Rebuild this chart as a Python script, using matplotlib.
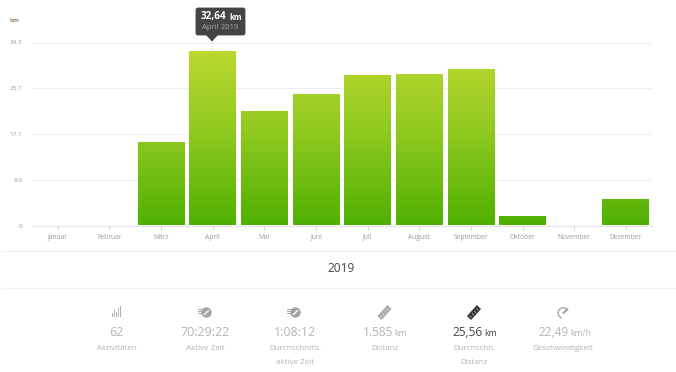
import numpy as np
import matplotlib
matplotlib.use("Agg")
import matplotlib.pyplot as plt
from matplotlib.patches import FancyBboxPatch, Polygon, Rectangle, Circle, Wedge
from matplotlib.colors import LinearSegmentedColormap

months = ["Januar", "Februar", "März", "April", "Mai", "Juni", "Juli", "August",
          "September", "Oktober", "November", "Dezember"]
km = [0, 0, 15.7, 32.64, 21.5, 24.7, 28.2, 28.4, 29.3, 1.7, 0, 5.0]
yticks = [0, 8.6, 17.1, 25.7, 34.3]
ytick_labels = ["0", "8.6", "17.1", "25.7", "34.3"]
year = "2019"
tooltip_value = "32,64"
tooltip_label = "April 2019"
stat_values = ["62", "70:29:22", "1:08:12", "1.585", "25,56", "22,49"]
stat_units = ["", "", "", "km", "km", "km/h"]
stat_labels = [["Aktivitäten"], ["Aktive Zeit"], ["Durchschnittl.", "aktive Zeit"],
               ["Distanz"], ["Durchschn.", "Distanz"], ["Geschwindigkeit"]]

plt.rcParams['font.family'] = ['Open Sans', 'DejaVu Sans']
W, H = 676, 372
fig = plt.figure(figsize=(W / 100, H / 100), dpi=100, facecolor="white")
ax = fig.add_axes([32 / W, (H - 225.5) / H, 619.6 / W, 183 / H])
x = np.arange(12)
ax.set_xlim(-0.5, 11.5)
ax.set_ylim(0, 34.3)

cmap = LinearSegmentedColormap.from_list("g", ["#bbd82f", "#8cc81e", "#4fb000"])
grad = np.linspace(0, 1, 256).reshape(-1, 1)
bars = ax.bar(x, km, width=0.905, color="none", edgecolor="none", zorder=3)
for b, v in zip(bars, km):
    if v <= 0:
        continue
    x0 = b.get_x()
    x1 = x0 + b.get_width()
    im = ax.imshow(grad, cmap=cmap, aspect="auto", extent=[x0, x1, 0, max(km)],
                   origin="upper", zorder=3, interpolation="bilinear")
    im.set_clip_path(b)
ax.set_xlim(-0.5, 11.5)
ax.set_ylim(0, 34.3)

ax.set_yticks(yticks)
ax.set_yticklabels(ytick_labels, fontsize=4.6, color="#9a9a9a")
ax.set_xticks(x)
ax.set_xticklabels(months, fontsize=4.8, color="#9a9a9a")
ax.tick_params(axis="y", length=0, pad=7)
ax.tick_params(axis="x", length=3.2, width=0.6, color="#cccccc", pad=2.6)
ax.grid(axis="y", color="#eeeeee", linewidth=0.8, zorder=0)
ax.set_axisbelow(True)
for s in ["top", "right", "left"]:
    ax.spines[s].set_visible(False)
ax.spines["bottom"].set_color("#e6e6e6")
ax.spines["bottom"].set_linewidth(0.8)
ax.patch.set_alpha(0)

ov = fig.add_axes([0, 0, 1, 1], zorder=5)
ov.set_xlim(0, W)
ov.set_ylim(H, 0)
ov.axis("off")
ov.patch.set_alpha(0)

ov.text(9, 20.5, "km", fontsize=4.4, color="#a08a70", ha="left", va="center", fontweight="bold")

# tooltip
ov.plot([212, 212], [41, 52], color="#c8c8c8", lw=0.6, ls=(0, (2, 2)))
ov.add_patch(FancyBboxPatch((196, 8), 49, 27, boxstyle="round,pad=0,rounding_size=2",
                            fc="#444444", ec="#444444", lw=0.6))
ov.add_patch(Polygon([[206, 35], [218, 35], [212, 41.5]], fc="#444444", ec="none"))
ov.text(201, 16.5, tooltip_value, fontsize=7.2, color="white", fontweight="bold", ha="left", va="center")
ov.text(229, 17, "km", fontsize=5.6, color="white", fontweight="bold", ha="left", va="center")
ov.text(220.5, 27.5, tooltip_label, fontsize=5.6, color="#a8a8a8", ha="center", va="center")

# separators
ov.plot([2, 676], [250.5, 250.5], color="#f0f0f0", lw=1)
ov.plot([2, 676], [287.5, 287.5], color="#f0f0f0", lw=1)
ov.text(341.5, 269, year, fontsize=8.6, color="#444444", ha="center", va="center")

# stats
cx = [116.5, 205.5, 295, 385, 474, 563]
splits = [None, None, None, 393, 483, 569]
ink = ["#b5b5b5"] * 6
ink[4] = "#444444"
for i, c in enumerate(cx):
    val, unit = stat_values[i], stat_units[i]
    if unit:
        ov.text(splits[i], 332.5, val, fontsize=8.6, color=ink[i], ha="right", va="center")
        ov.text(splits[i] + 1.5, 333, unit, fontsize=6.2, color=ink[i], ha="left", va="center")
    else:
        ov.text(c, 332.5, val, fontsize=8.9, color=ink[i], ha="center", va="center")
    for j, line in enumerate(stat_labels[i]):
        ov.text(c, 348 + j * 14.3, line, fontsize=5.8, color="#b5b5b5", ha="center", va="center")

# icons
for bx, h in zip([112.5, 114.5, 116.5, 118.5, 120.5], [4, 7, 5, 9, 11]):
    ov.add_patch(Rectangle((bx - 0.5, 317 - h), 1, h, fc="#b0b0b0", ec="none"))
for c in [206.5, 295.5]:
    ov.add_patch(Circle((c, 312.5), 5.2, fc="#a5a5a5", ec="none"))
    ov.plot([c - 2, c + 2], [314.5, 310.5], color="white", lw=0.9)
    for k, w in enumerate([6, 5, 3]):
        ov.plot([c - 9, c - 9 + w], [308.5 + k * 2, 308.5 + k * 2], color="#a5a5a5", lw=0.7)
for c, col in [(384.5, "#aaaaaa"), (474, "#333333")]:
    ov.add_patch(Polygon([[c - 7, 316], [c - 3, 320], [c + 7, 309], [c + 3, 305]], fc=col, ec="none"))
    for k in range(5):
        px = c - 4 + k * 2.2
        py = 316 - k * 2.4
        ov.plot([px, px + 1.3], [py, py + 1.3], color="white", lw=0.4)
ov.add_patch(Wedge((563.5, 313), 6, 110, 330, width=1.4, fc="#a5a5a5", ec="none",
                   transform=ov.transData))
ov.plot([563.5, 567], [313, 309.5], color="#909090", lw=1.2)

fig.savefig("out.png", dpi=100, facecolor="white")
